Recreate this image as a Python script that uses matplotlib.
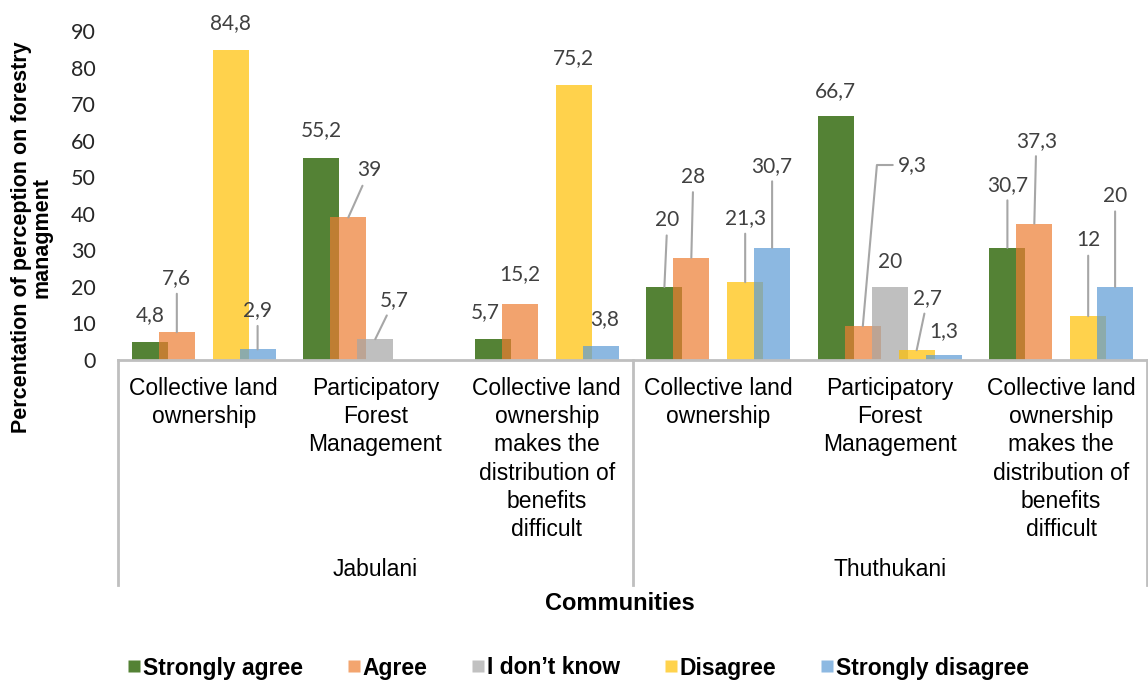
import matplotlib
matplotlib.use('Agg')
import matplotlib.pyplot as plt
from matplotlib.lines import Line2D
import numpy as np

# ---------------- data ----------------
communities = ['Jabulani', 'Thuthukani']
statements = ['Collective land\nownership',
              'Participatory\nForest\nManagement',
              'Collective land\nownership\nmakes the\ndistribution of\nbenefits\ndifficult']
series_names = ['Strongly agree', 'Agree', 'I don\u2019t know', 'Disagree', 'Strongly disagree']
strongly_agree = [4.8, 55.2, 5.7, 20, 66.7, 30.7]
agree = [7.6, 39, 15.2, 28, 9.3, 37.3]
dont_know = [0, 5.7, 0, 0, 20, 0]
disagree = [84.8, 0, 75.2, 21.3, 2.7, 12]
strongly_disagree = [2.9, 0, 3.8, 30.7, 1.3, 20]
y_ticks = [0, 10, 20, 30, 40, 50, 60, 70, 80, 90]

# ---------------- styling ----------------
colors = ['#548235', '#ED7D31', '#A5A5A5', '#FFC000', '#5B9BD5']
alphas = [1.0, 0.7, 0.7, 0.7, 0.7]
legend_colors = ['#548235', '#F3A56F', '#C1C1C1', '#FFD34D', '#8DB9E2']

# label offsets in pixels (dx, dy) from bar top, and whether a leader line is drawn
label_layout = {
    (0, 0): (0, 27, False), (0, 1): (0, 54, True), (0, 3): (0, 27, False), (0, 4): (0, 39, True),
    (1, 0): (0, 28, False), (1, 1): (21, 47, True), (1, 2): (19, 39, True),
    (2, 0): (-8, 27, False), (2, 1): (0, 30, False), (2, 3): (0, 27, False), (2, 4): (4, 27, False),
    (3, 0): (3, 67, True), (3, 1): (2, 81, True), (3, 3): (0, 64, True), (3, 4): (0, 82, True),
    (4, 0): (0, 25, False), (4, 1): (50, 161, 'elbow'), (4, 2): (0, 25, False),
    (4, 3): (11, 52, True), (4, 4): (0, 24, False),
    (5, 0): (0, 63, True), (5, 1): (2, 83, True), (5, 3): (0, 76, True), (5, 4): (0, 91, True),
}

W, H = 1148, 683
fig = plt.figure(figsize=(W / 100, H / 100), dpi=100)
ax_left, ax_right, ax_bot, ax_top = 118, 1147, 360, 31
ax = fig.add_axes([ax_left / W, 1 - ax_bot / H, (ax_right - ax_left) / W, (ax_bot - ax_top) / H])

all_series = [strongly_agree, agree, dont_know, disagree, strongly_disagree]
n_groups = len(strongly_agree)
x = np.arange(n_groups)
bar_w = 0.21
step = 0.157
offsets = (np.arange(5) - 2) * step

label_font = dict(family='Lato', size=15, color='#404040')

for s, vals in enumerate(all_series):
    ax.bar(x + offsets[s], vals, width=bar_w, color=colors[s], alpha=alphas[s],
           edgecolor='none', zorder=2 + s)

for s, vals in enumerate(all_series):
    for g, v in enumerate(vals):
        if v == 0:
            continue
        dx, dy, leader = label_layout[(g, s)]
        txt = f"{v:g}".replace('.', ',')
        kw = {}
        if leader is True:
            kw['arrowprops'] = dict(arrowstyle='-', color='#A6A6A6', lw=1.5,
                                    shrinkA=2, shrinkB=0)
        elif leader == 'elbow':
            kw['arrowprops'] = dict(arrowstyle='-', color='#A6A6A6', lw=1.5,
                                    shrinkA=2, shrinkB=0, relpos=(0, 0.5),
                                    connectionstyle='angle,angleA=180,angleB=85,rad=0')
        ax.annotate(txt, xy=(x[g] + offsets[s], v), xytext=(dx, dy),
                    textcoords='offset pixels', ha='center', va='center',
                    zorder=10, annotation_clip=False, **label_font, **kw)

ax.set_xlim(-0.5, n_groups - 0.5)
ax.set_ylim(0, 90)
ax.set_yticks(y_ticks)
ax.set_yticklabels([str(t) for t in y_ticks], fontfamily='Lato', fontsize=15.5, color='#262626')
ax.tick_params(axis='y', length=0, pad=16)
ax.set_xticks([])
for sp in ['top', 'right', 'left']:
    ax.spines[sp].set_visible(False)
ax.spines['bottom'].set_color('#BFBFBF')
ax.spines['bottom'].set_linewidth(2)
ax.spines['bottom'].set_zorder(20)

# multi-level category axis
ah = ax_bot - ax_top
sep_bottom = -(585 - ax_bot) / ah
for xf in [0.0, 0.5, 1.0]:
    ax.add_line(Line2D([xf, xf], [0, sep_bottom], transform=ax.transAxes,
                       color='#BFBFBF', lw=2, clip_on=False))

cat_y = -(377 - ax_bot) / ah
for g in range(n_groups):
    ax.text(g, cat_y, statements[g % 3], transform=ax.get_xaxis_transform(),
            ha='center', va='top', fontfamily='Liberation Sans', fontsize=16.5,
            linespacing=1.29, color='black')

comm_y = -(570 - ax_bot) / ah
for c, name in enumerate(communities):
    ax.text(c * 3 + 1, comm_y, name, transform=ax.get_xaxis_transform(),
            ha='center', va='center', fontfamily='Liberation Sans', fontsize=16.5, color='black')

fig.text(620 / W, 1 - 603 / H, 'Communities', ha='center', va='center',
         fontfamily='Liberation Sans', fontsize=17, fontweight='bold')
fig.text(32 / W, 1 - 237 / H, 'Percentation of perception on forestry\nmanagment',
         ha='center', va='center', rotation=90, fontfamily='Liberation Sans',
         fontsize=15.5, fontweight='bold', linespacing=1.0)

handles = [Line2D([], [], marker='s', linestyle='none', markersize=8.5,
                  markerfacecolor=c, markeredgecolor='none') for c in legend_colors]
fig.legend(handles, series_names, loc='center', bbox_to_anchor=(578 / W, 1 - 668 / H),
           ncol=5, frameon=False, handlelength=0.6, handletextpad=0.1,
           columnspacing=1.9, prop=dict(family='Liberation Sans', size=16.5, weight='bold'))

fig.savefig('out.png', dpi=100)
